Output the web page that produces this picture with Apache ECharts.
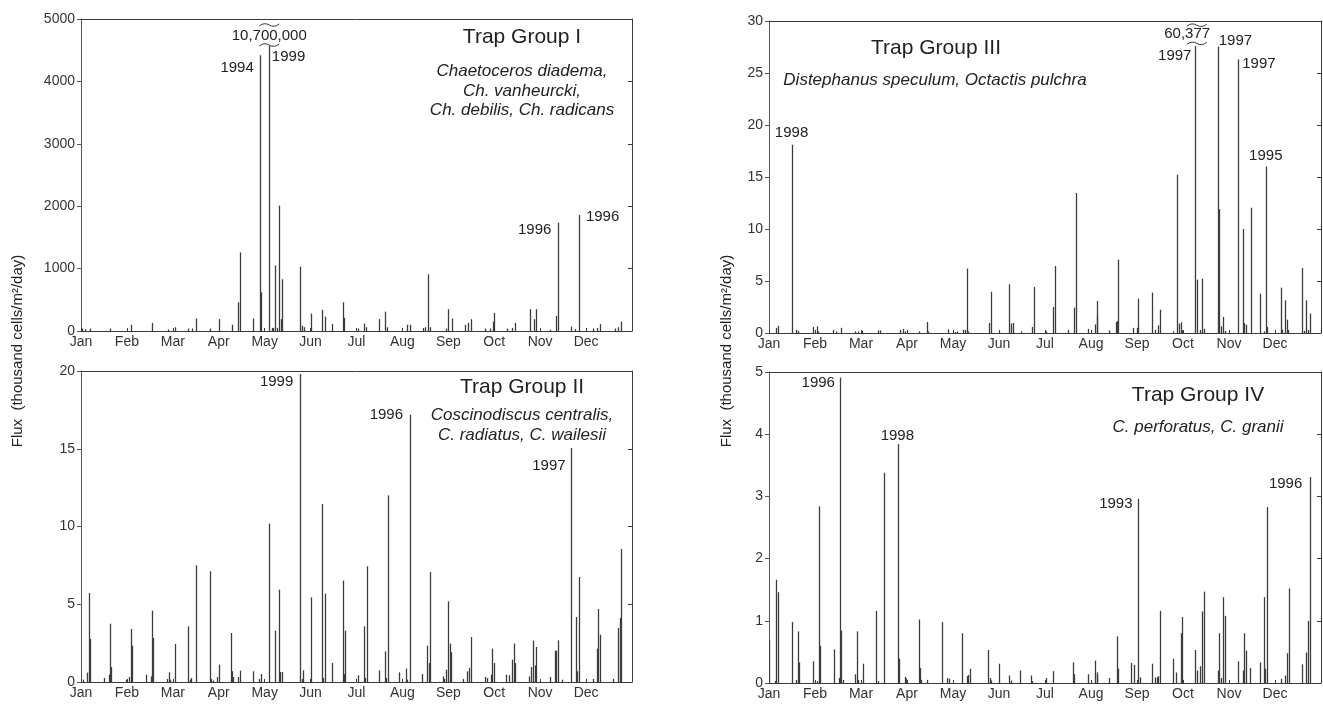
<!DOCTYPE html>
<html>
<head>
<meta charset="utf-8">
<script src="https://cdn.jsdelivr.net/npm/echarts@6/dist/echarts.min.js"></script>
<style>
html,body{margin:0;padding:0;background:#fff;}
#chart{width:1323px;height:706px;}
</style>
</head>
<body>
<div id="chart"></div>
<script>
// ---------------- DATA ----------------
const monthLabels = ['Jan','Feb','Mar','Apr','May','Jun','Jul','Aug','Sep','Oct','Nov','Dec'];

// Trap Group I  (x = months since 1 Jan, y = flux)
const g1Month = [0.02,0.08,0.2,0.63,1.08,1.55,1.9,2.05,2.34,2.41,2.5,2.81,3.0,3.28,3.43,3.46,3.75,3.89,3.91,4.09,4.15,4.19,4.22,4.26,4.31,4.35,4.37,4.78,4.82,4.86,5.01,5.24,5.31,5.47,5.7,5.73,6.04,6.16,6.21,6.49,6.63,6.67,7.09,7.16,7.45,7.5,7.55,7.59,7.95,8.0,8.07,8.36,8.43,8.49,8.8,8.9,8.97,8.99,9.27,9.38,9.45,9.78,9.87,9.92,10.21,10.34,10.39,10.67,10.75,10.84,11.16,11.23,11.3,11.63,11.7,11.77];
const g1Flux  = [40,30,40,40,100,130,25,60,40,40,200,40,190,100,460,1260,200,4420,620,4570,50,50,1050,50,2010,190,830,1030,85,60,280,340,230,110,460,210,40,120,60,190,310,60,100,100,50,60,910,60,40,350,200,100,130,190,40,40,150,290,40,50,130,350,190,350,20,240,1735,70,30,1860,40,50,110,40,60,150];

// Trap Group II
const g2Month = [0.04,0.14,0.17,0.2,0.5,0.6,0.63,0.66,0.97,1.05,1.08,1.11,1.42,1.52,1.55,1.57,1.88,1.91,1.94,2.05,2.34,2.37,2.4,2.5,2.8,2.84,2.87,2.97,3.0,3.26,3.29,3.32,3.43,3.46,3.75,3.88,3.91,4.09,4.22,4.31,4.34,4.38,4.78,4.81,4.84,5.01,5.24,5.28,5.31,5.47,5.7,5.73,5.76,6.03,6.16,6.19,6.22,6.49,6.62,6.65,6.69,6.93,7.08,7.11,7.16,7.42,7.54,7.57,7.61,7.88,7.9,7.94,8.0,8.03,8.06,8.33,8.4,8.46,8.49,8.8,8.84,8.92,8.96,8.99,9.26,9.32,9.39,9.42,9.46,9.76,9.79,9.84,9.88,9.92,10.21,10.32,10.35,10.39,10.48,10.68,10.77,10.8,10.84,11.14,11.24,11.27,11.3,11.59,11.69,11.73,11.77];
const g2Flux  = [0.15,0.6,5.72,2.77,0.26,0.47,3.75,0.96,0.15,0.32,3.41,2.34,0.47,0.36,4.59,2.83,0.19,0.62,0.15,2.44,3.58,0.15,0.26,7.5,7.12,0.19,0.1,0.32,1.11,3.15,0.69,0.32,0.32,0.73,0.69,0.19,0.51,10.18,3.3,5.94,0.64,0.64,19.8,0.19,0.75,5.44,11.45,0.26,5.68,1.22,6.52,0.51,3.3,0.43,3.58,0.26,7.44,0.75,1.97,0.26,12.0,0.62,0.86,0.15,17.19,0.51,2.34,1.22,7.07,0.36,0.2,0.79,5.19,2.47,1.91,0.2,0.69,0.9,2.89,0.32,0.25,0.47,2.14,1.22,0.47,0.43,1.44,2.47,1.22,0.36,0.96,2.66,1.07,2.25,0.32,2.01,2.01,2.68,0.15,15.05,4.18,0.69,6.75,0.2,2.14,4.69,3.04,0.2,3.47,4.12,8.55];

// Trap Group III
const g3Month = [0.15,0.19,0.49,0.59,0.64,0.96,1.04,1.07,1.4,1.45,1.56,1.88,1.93,2.03,2.38,2.41,2.85,2.91,2.95,3.26,3.43,3.46,3.9,4.05,4.09,4.22,4.27,4.3,4.33,4.79,4.83,4.99,5.22,5.26,5.3,5.47,5.71,5.75,6.02,6.18,6.22,6.49,6.63,6.67,6.94,7.09,7.12,7.14,7.4,7.54,7.57,7.59,7.92,7.99,8.03,8.33,8.39,8.45,8.49,8.78,8.86,8.91,8.95,8.98,9.25,9.31,9.37,9.41,9.45,9.75,9.78,9.83,9.88,9.92,10.2,10.3,10.33,10.36,10.47,10.67,10.76,10.8,10.83,11.12,11.16,11.22,11.25,11.29,11.59,11.63,11.68,11.71,11.75];
const g3Flux  = [0.5,0.7,18.1,0.3,0.2,0.58,0.64,0.15,0.3,0.15,0.5,0.15,0.15,0.2,0.25,0.25,0.3,0.4,0.15,0.15,1.06,0.15,0.35,0.1,0.15,0.3,0.3,6.2,0.15,0.96,3.97,0.15,4.68,0.9,0.96,0.15,0.58,4.42,0.15,2.5,6.44,0.3,2.44,13.46,0.4,0.83,1.6,3.08,0.25,1.06,1.15,7.05,0.5,0.5,3.3,3.88,0.3,0.74,2.24,0.15,15.22,0.9,1.03,0.25,27.6,5.13,0.3,5.22,0.4,27.56,11.9,0.64,1.54,0.2,26.3,10.0,0.96,0.8,12.05,3.78,0.15,16.0,0.58,4.36,0.3,3.14,1.28,0.3,6.25,0.2,3.14,0.3,1.86];

// Trap Group IV
const g4Month = [0.01,0.13,0.16,0.2,0.49,0.59,0.62,0.65,0.95,1.05,1.08,1.11,1.41,1.52,1.55,1.57,1.6,1.87,1.91,1.93,2.04,2.33,2.37,2.49,2.8,2.83,2.95,2.98,3.25,3.28,3.31,3.43,3.75,3.88,3.91,4.2,4.3,4.33,4.37,4.77,4.8,4.83,5.0,5.22,5.25,5.46,5.69,5.72,6.02,6.18,6.61,6.64,6.94,7.08,7.12,7.14,7.4,7.56,7.59,7.86,7.93,8.03,8.06,8.33,8.39,8.43,8.46,8.49,8.78,8.85,8.95,8.98,9.25,9.31,9.38,9.41,9.45,9.75,9.78,9.83,9.87,9.91,10.2,10.3,10.33,10.37,10.46,10.67,10.76,10.79,10.83,11.13,11.22,11.26,11.3,11.59,11.68,11.72,11.75];
const g4Flux  = [0.7,0.03,1.66,1.46,0.98,0.05,0.83,0.33,0.35,0.03,2.84,0.6,0.54,0.08,4.91,0.84,0.05,0.14,0.83,0.05,0.31,1.16,0.03,3.38,3.84,0.39,0.1,0.07,1.02,0.24,0.05,0.05,0.98,0.08,0.07,0.8,0.11,0.13,0.23,0.53,0.08,0.04,0.31,0.12,0.04,0.2,0.12,0.03,0.08,0.19,0.33,0.14,0.14,0.36,0.13,0.17,0.08,0.75,0.23,0.32,0.29,2.96,0.09,0.31,0.09,0.09,0.11,1.16,0.39,0.17,0.8,1.06,0.53,0.2,0.27,1.15,1.47,0.2,0.8,0.08,1.38,1.08,0.35,0.2,0.8,0.52,0.24,0.33,1.38,0.23,2.83,0.07,0.12,0.48,1.52,0.3,0.49,1.0,3.31];

// Axis ranges / tick steps
const yMax      = [5000, 20, 30, 5];
const yStep     = [1000, 5, 5, 1];

// Year annotations: [month, flux, text]
const g1Notes = [[3.40,4210,'1994'],[4.52,4386,'1999'],[4.10,4728,'10,700,000'],[9.88,1614,'1996'],[11.36,1832,'1996']];
const g2Notes = [[4.26,19.31,'1999'],[6.65,17.17,'1996'],[10.19,13.89,'1997']];
const g3Notes = [[0.49,19.26,'1998'],[9.09,28.8,'60,377'],[8.82,26.63,'1997'],[10.14,28.1,'1997'],[10.65,25.84,'1997'],[10.8,17.05,'1995']];
const g4Notes = [[1.07,4.82,'1996'],[2.79,3.98,'1998'],[7.54,2.88,'1993'],[11.23,3.2,'1996']];

// Axis-break marks (centre of wavy mark): [month, flux]
const g1Breaks = [[4.10,4904],[4.10,4583]];
const g3Breaks = [[9.30,29.6],[9.30,27.85]];

// Panel titles and species
const titles = ['Trap Group I','Trap Group II','Trap Group III','Trap Group IV'];
const species = [
  ['Chaetoceros diadema,','Ch. vanheurcki,','Ch. debilis, Ch. radicans'],
  ['Coscinodiscus centralis,','C. radiatus, C. wailesii'],
  ['Distephanus speculum, Octactis pulchra'],
  ['C. perforatus, C. granii']
];
const yTitle = 'Flux  (thousand cells/m\u00B2/day)';

// ---------------- LAYOUT ----------------
const FONT = '"Liberation Sans", Arial, Helvetica, sans-serif';
const grids = [
  {left:81, top:19, width:551, height:312},
  {left:81, top:371, width:551, height:311},
  {left:769, top:21, width:552, height:312},
  {left:769, top:372, width:552, height:311}
];
const lineColor = '#3a3a3a';

const xAxes = [], yAxes = [], series = [];
grids.forEach((g, i) => {
  xAxes.push({
    type:'value', gridIndex:i, min:0, max:12, interval:1, position:'bottom',
    axisLine:{show:true, onZero:false, lineStyle:{color:lineColor, width:1}},
    axisTick:{show:true, inside:true, length:3, lineStyle:{color:lineColor}},
    axisLabel:{show:true, margin:4, color:'#333', fontSize:14, fontFamily:FONT,
      showMinLabel:true, showMaxLabel:true, hideOverlap:false,
      formatter:(v)=> monthLabels[Math.round(v)] || ''},
    splitLine:{show:false}
  });
  xAxes.push({
    type:'value', gridIndex:i, min:0, max:12, position:'top',
    axisLine:{show:true, onZero:false, lineStyle:{color:lineColor, width:1}},
    axisTick:{show:false}, axisLabel:{show:false}, splitLine:{show:false}
  });
  yAxes.push({
    type:'value', gridIndex:i, min:0, max:yMax[i], interval:yStep[i], position:'left',
    axisLine:{show:true, onZero:false, lineStyle:{color:'#555', width:1}},
    axisTick:{show:true, inside:false, length:4, lineStyle:{color:'#555'}},
    axisLabel:{show:true, margin:6, color:'#333', fontSize:14, fontFamily:FONT,
      showMinLabel:true, showMaxLabel:true, hideOverlap:false,
      formatter:(v)=> String(v)},
    splitLine:{show:false}
  });
  yAxes.push({
    type:'value', gridIndex:i, min:0, max:yMax[i], interval:yStep[i], position:'right',
    axisLine:{show:true, onZero:false, lineStyle:{color:lineColor, width:1}},
    axisTick:{show:true, inside:true, length:4, lineStyle:{color:lineColor}},
    axisLabel:{show:false}, splitLine:{show:false}
  });
});

function spikes(i, xs, ys) {
  return {
    type:'custom', xAxisIndex:i*2, yAxisIndex:i*2, silent:true, animation:false, clip:true,
    data: xs.map((x, k) => [x, ys[k]]),
    renderItem:(params, api) => {
      const top = api.coord([api.value(0), api.value(1)]);
      const base = api.coord([api.value(0), 0]);
      const x = Math.round(top[0]) + 0.5;
      return {type:'line', shape:{x1:x, y1:top[1], x2:x, y2:base[1]},
        style:{stroke:'#3c3c3c', lineWidth:1.3}};
    }
  };
}
function notes(i, arr) {
  return {
    type:'custom', xAxisIndex:i*2, yAxisIndex:i*2, silent:true, animation:false, clip:false,
    data: arr.map(a => [a[0], a[1]]),
    renderItem:(params, api) => {
      const p = api.coord([api.value(0), api.value(1)]);
      return {type:'text', x:p[0], y:p[1],
        style:{text:arr[params.dataIndex][2], align:'center', verticalAlign:'middle',
          font:'15px ' + FONT, fill:'#222'}};
    }
  };
}
function breaks(i, arr) {
  return {
    type:'custom', xAxisIndex:i*2, yAxisIndex:i*2, silent:true, animation:false, clip:false,
    data: arr,
    renderItem:(params, api) => {
      const p = api.coord([api.value(0), api.value(1)]);
      const x0 = p[0] - 10, y0 = p[1];
      return {type:'path', shape:{pathData:
        'M' + x0 + ',' + (y0+1) + ' Q' + (x0+5) + ',' + (y0-3) + ' ' + (x0+10) + ',' + y0 +
        ' T' + (x0+20) + ',' + (y0-1)},
        style:{stroke:'#333', lineWidth:1, fill:'none'}};
    }
  };
}

series.push(spikes(0, g1Month, g1Flux));
series.push(spikes(1, g2Month, g2Flux));
series.push(spikes(2, g3Month, g3Flux));
series.push(spikes(3, g4Month, g4Flux));
series.push(notes(0, g1Notes));
series.push(notes(1, g2Notes));
series.push(notes(2, g3Notes));
series.push(notes(3, g4Notes));
series.push(breaks(0, g1Breaks));
series.push(breaks(2, g3Breaks));

// Titles / species as text graphics
const titlePos = [[522,37],[522,387],[936,48],[1198,395]];
const speciesPos = [[522,[71,91,110]],[522,[415,435]],[935,[80]],[1198,[427]]];
const graphics = [];
titles.forEach((t, i) => {
  graphics.push({type:'text', x:titlePos[i][0], y:titlePos[i][1], silent:true,
    style:{text:t, align:'center', verticalAlign:'middle', font:'21px ' + FONT, fill:'#222'}});
  species[i].forEach((s, k) => {
    graphics.push({type:'text', x:speciesPos[i][0], y:speciesPos[i][1][k], silent:true,
      style:{text:s, align:'center', verticalAlign:'middle', font:'italic 17px ' + FONT, fill:'#222'}});
  });
});
[[18,351],[727,351]].forEach(p => {
  graphics.push({type:'text', x:p[0], y:p[1], rotation:Math.PI/2, silent:true,
    style:{text:yTitle, align:'center', verticalAlign:'middle', font:'15px ' + FONT, fill:'#222'}});
});

const chart = echarts.init(document.getElementById('chart'), null, {renderer:'canvas'});
chart.setOption({
  animation:false,
  backgroundColor:'#ffffff',
  grid: grids.map(g => Object.assign({containLabel:false, outerBoundsMode:'none'}, g)),
  xAxis: xAxes,
  yAxis: yAxes,
  series: series,
  graphic: graphics
});
</script>
</body>
</html>
